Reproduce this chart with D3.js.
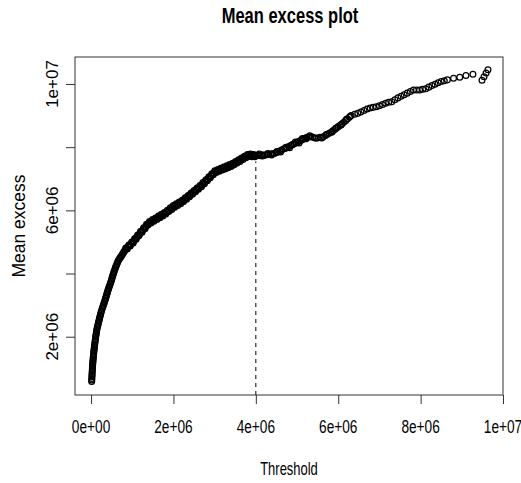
<!DOCTYPE html>
<html>
<head>
<meta charset="utf-8">
<script src="https://cdn.jsdelivr.net/npm/d3@7"></script>
<style>
body { margin: 0; background: #fff; }
text { font-family: "Liberation Sans", Arial, sans-serif; fill: #000; }
</style>
</head>
<body>
<script>
var w = 521;
var h = 483;

//Data (values in millions)
//Points of the mean excess plot: [threshold, mean excess]
var mePoints = [
	[0.015,0.58],[0.017,0.63],[0.019,0.68],[0.021,0.73],[0.023,0.78],[0.025,0.83],[0.027,0.88],[0.030,0.93],
	[0.032,0.98],[0.034,1.03],[0.037,1.08],[0.040,1.13],[0.043,1.18],[0.046,1.23],[0.049,1.28],[0.052,1.33],
	[0.056,1.38],[0.060,1.43],[0.064,1.48],[0.068,1.53],[0.072,1.58],[0.076,1.63],[0.081,1.68],[0.086,1.73],
	[0.091,1.78],[0.096,1.83],[0.101,1.88],[0.106,1.93],[0.111,1.98],[0.117,2.03],[0.123,2.08],[0.129,2.13],
	[0.135,2.18],[0.141,2.23],[0.150,2.28],[0.159,2.33],[0.168,2.38],[0.177,2.43],[0.186,2.48],[0.196,2.53],
	[0.205,2.58],[0.215,2.63],[0.225,2.68],[0.235,2.73],[0.245,2.78],[0.256,2.83],
	[0.271,2.89],[0.283,2.935],[0.294,2.98],[0.306,3.025],[0.317,3.07],[0.328,3.115],[0.340,3.16],
	[0.350,3.205],[0.361,3.25],[0.371,3.295],[0.381,3.34],[0.392,3.385],[0.402,3.43],[0.412,3.475],
	[0.424,3.52],[0.436,3.565],[0.449,3.61],[0.461,3.655],[0.473,3.70],
	[0.484,3.745],[0.494,3.79],[0.504,3.835],[0.515,3.88],[0.525,3.925],[0.536,3.97],[0.546,4.015],
	[0.558,4.06],[0.571,4.105],[0.583,4.15],[0.595,4.195],[0.607,4.237],
	[0.621,4.28],[0.635,4.325],[0.649,4.37],[0.663,4.415],
	[0.685,4.46],[0.703,4.495],[0.722,4.53],[0.741,4.565],
	[0.758,4.60],[0.774,4.635],[0.790,4.67],[0.807,4.705],[0.823,4.74],
	[0.861,4.79],[0.897,4.84],[0.933,4.885],[0.969,4.93],
	[1.005,4.98],[1.041,5.04],[1.077,5.10],[1.113,5.15],[1.149,5.21],[1.185,5.27],
	[1.221,5.32],[1.257,5.38],[1.293,5.435],[1.329,5.49],[1.365,5.55],
	[1.401,5.60],[1.437,5.625],[1.473,5.655],[1.509,5.68],[1.545,5.71],[1.581,5.735],
	[1.617,5.765],[1.653,5.79],[1.689,5.82],[1.725,5.85],[1.761,5.875],[1.797,5.905],
	[1.833,5.945],[1.869,5.98],[1.905,6.02],[1.941,6.055],[1.977,6.09],
	[2.013,6.125],[2.049,6.155],[2.085,6.18],[2.121,6.21],[2.157,6.24],[2.193,6.265],
	[2.229,6.30],[2.265,6.34],[2.301,6.375],[2.337,6.415],[2.373,6.45],
	[2.409,6.49],[2.445,6.53],[2.481,6.57],[2.517,6.605],[2.553,6.645],[2.589,6.685],[2.625,6.725],
	[2.661,6.765],[2.697,6.815],[2.733,6.86],[2.769,6.91],[2.805,6.955],[2.841,7.00],[2.877,7.05],
	[2.913,7.095],[2.949,7.145],[2.985,7.19],
	[3.021,7.23],[3.057,7.245],[3.093,7.265],[3.129,7.285],[3.165,7.305],[3.201,7.325],
	[3.237,7.34],[3.273,7.36],[3.309,7.38],[3.345,7.40],[3.381,7.415],
	[3.417,7.435],[3.453,7.465],[3.489,7.49],[3.525,7.52],[3.561,7.55],[3.597,7.575],
	[3.633,7.605],[3.669,7.635],[3.705,7.66],[3.741,7.69],[3.777,7.72],[3.813,7.745],
	[3.849,7.76],[3.885,7.735],[3.921,7.73],[3.957,7.735],[3.993,7.74],
	[4.06,7.745],[4.10,7.73],[4.14,7.76],[4.18,7.74],[4.22,7.75],
	[4.265,7.76],[4.31,7.77],[4.355,7.78],[4.40,7.79],[4.445,7.80],
	[4.49,7.82],[4.535,7.85],[4.58,7.88],[4.625,7.91],[4.67,7.94],[4.71,7.96],
	[4.755,7.99],[4.80,8.02],[4.845,8.05],[4.89,8.08],[4.935,8.11],
	[4.98,8.14],[5.025,8.17],[5.07,8.20],[5.115,8.23],[5.16,8.26],[5.194,8.28],
	[5.24,8.31],[5.285,8.32],[5.33,8.33],[5.375,8.32],[5.42,8.30],[5.465,8.28],
	[5.52,8.30],[5.565,8.31],[5.638,8.33],[5.69,8.37],[5.735,8.41],[5.78,8.44],[5.825,8.47],
	[5.87,8.52],[5.915,8.56],[5.96,8.61],[6.00,8.65],[6.045,8.69],[6.09,8.74],[6.135,8.79],
	[6.18,8.84],[6.225,8.90],[6.27,8.95],[6.315,9.00],
	[6.40,9.04],[6.475,9.07],[6.55,9.11],[6.625,9.16],[6.70,9.21],[6.775,9.24],[6.85,9.26],
	[6.925,9.28],[7.00,9.31],[7.075,9.35],[7.15,9.39],[7.225,9.42],[7.30,9.44],[7.375,9.50],
	[7.45,9.56],[7.525,9.61],[7.60,9.66],[7.675,9.71],[7.75,9.76],[7.825,9.81],[7.90,9.81],
	[7.975,9.81],[8.05,9.83],[8.125,9.85],[8.20,9.90],[8.275,9.95],[8.35,9.99],[8.425,10.04],
	[8.50,10.08],[8.575,10.10],[8.65,10.13],[8.80,10.18],[8.95,10.21],[9.10,10.27],[9.27,10.31],
	[9.49,10.12],[9.54,10.23],[9.59,10.35],[9.635,10.45]
];

//More points where the reference is a solid band (0.8e6 - 6.3e6)
var mePointsDense = [
	[0.842,4.805],[0.879,4.775],[0.915,4.90],[0.951,4.87],[0.987,4.995],[1.023,4.97],[1.059,5.11],[1.095,5.085],
	[1.131,5.22],[1.167,5.20],[1.203,5.335],[1.239,5.31],[1.275,5.45],[1.311,5.42],[1.347,5.56],[1.383,5.535],
	[1.419,5.65],[1.455,5.60],[1.491,5.71],[1.527,5.655],[1.563,5.76],[1.599,5.71],[1.635,5.82],[1.671,5.765],
	[1.707,5.875],[1.743,5.82],[1.779,5.93],[1.815,5.885],[1.851,6.00],[1.887,5.96],[1.923,6.08],[1.959,6.03],
	[1.995,6.15],[2.031,6.10],[2.067,6.21],[2.103,6.155],[2.139,6.265],[2.175,6.21],[2.211,6.32],[2.247,6.28],
	[2.283,6.40],[2.319,6.355],[2.355,6.47],[2.391,6.43],[2.427,6.55],[2.463,6.51],[2.499,6.63],[2.535,6.585],
	[2.571,6.705],[2.607,6.665],[2.643,6.785],[2.679,6.75],[2.715,6.88],[2.751,6.845],[2.787,6.97],[2.823,6.94],
	[2.859,7.065],[2.895,7.03],[2.931,7.16],[2.967,7.13],[3.003,7.25],[3.039,7.20],[3.075,7.295],[3.111,7.235],
	[3.147,7.335],[3.183,7.275],[3.219,7.37],[3.255,7.31],[3.291,7.41],[3.327,7.35],[3.363,7.45],[3.399,7.385],
	[3.435,7.49],[3.471,7.44],[3.507,7.545],[3.543,7.495],[3.579,7.60],[3.615,7.55],[3.651,7.66],[3.687,7.61],
	[3.723,7.715],[3.759,7.665],[3.795,7.77],[3.831,7.715],[3.867,7.785],[3.903,7.695],[3.939,7.77],[3.975,7.70],
	[4.08,7.78],[4.16,7.72],[4.29,7.80],[4.38,7.75],[4.51,7.86],[4.60,7.85],[4.73,8.00],[4.82,7.98],
	[4.96,8.16],[5.05,8.13],[5.13,8.27],[5.22,8.27],[5.31,8.36],[5.60,8.29],[5.71,8.40],[5.85,8.48],
	[5.94,8.60],[6.07,8.70],[6.20,8.88],[6.29,8.98]
];

//Chosen threshold (dashed line) and mean excess where it stops
var uLine = 4.0;
var uLineTop = 7.55;

//Axes
var xTicks = [0, 2, 4, 6, 8, 10];
var xTickLabels = ["0e+00", "2e+06", "4e+06", "6e+06", "8e+06", "1e+07"];
var yTicks = [2, 4, 6, 8, 10];
var yTickLabels = ["2e+06", "", "6e+06", "", "1e+07"];

var titleText = "Mean excess plot";
var xLabel = "Threshold";
var yLabel = "Mean excess";

//Plot region
var pLeft = 75, pRight = 503, pTop = 57, pBottom = 395;

var x = d3.scaleLinear().domain([-0.39, 10.0]).range([pLeft, pRight]);
var y = d3.scaleLinear().domain([0.155, 10.854]).range([pBottom, pTop]);

var svg = d3.select("body")
	.append("svg")
	.attr("width", w)
	.attr("height", h);

//Points
svg.append("g")
	.selectAll("circle")
	.data(mePoints.concat(mePointsDense))
	.enter()
	.append("circle")
	.attr("cx", function(d) { return x(d[0]); })
	.attr("cy", function(d) { return y(d[1]); })
	.attr("r", 2.9)
	.attr("fill", "none")
	.attr("stroke", "#000")
	.attr("stroke-width", 1.25);

//Dashed threshold line
svg.append("line")
	.attr("x1", x(uLine))
	.attr("x2", x(uLine))
	.attr("y1", pBottom)
	.attr("y2", y(uLineTop))
	.attr("stroke", "#000")
	.attr("stroke-width", 1)
	.attr("stroke-dasharray", "4,4");

//Box
svg.append("rect")
	.attr("x", pLeft)
	.attr("y", pTop)
	.attr("width", pRight - pLeft)
	.attr("height", pBottom - pTop)
	.attr("fill", "none")
	.attr("stroke", "#333")
	.attr("stroke-width", 1);

//x axis
var xAxis = svg.append("g")
	.attr("transform", "translate(0," + pBottom + ")")
	.call(d3.axisBottom(x).tickValues(xTicks).tickSize(9).tickFormat(""));
xAxis.select(".domain").remove();
xAxis.selectAll("line").attr("stroke", "#333");

svg.append("g")
	.selectAll("text")
	.data(xTicks)
	.enter()
	.append("text")
	.attr("text-anchor", "middle")
	.attr("font-size", 19)
	.attr("transform", function(d) {
		return "translate(" + x(d) + ",433) scale(0.72,1)";
	})
	.text(function(d, i) { return xTickLabels[i]; });

//y axis
var yAxis = svg.append("g")
	.attr("transform", "translate(" + pLeft + ",0)")
	.call(d3.axisLeft(y).tickValues(yTicks).tickSize(9).tickFormat(""));
yAxis.select(".domain").remove();
yAxis.selectAll("line").attr("stroke", "#333");

svg.append("g")
	.selectAll("text")
	.data(yTicks)
	.enter()
	.append("text")
	.attr("text-anchor", "middle")
	.attr("font-size", 17)
	.attr("transform", function(d) {
		return "translate(58," + y(d) + ") rotate(-90)";
	})
	.text(function(d, i) { return yTickLabels[i]; });

//Title and axis labels
svg.append("text")
	.attr("text-anchor", "middle")
	.attr("font-size", 22)
	.attr("font-weight", "bold")
	.attr("transform", "translate(290,23) scale(0.75,1)")
	.text(titleText);

svg.append("text")
	.attr("text-anchor", "middle")
	.attr("font-size", 18)
	.attr("transform", "translate(289,475) scale(0.72,1)")
	.text(xLabel);

svg.append("text")
	.attr("text-anchor", "middle")
	.attr("font-size", 17.5)
	.attr("transform", "translate(25," + ((pTop + pBottom) / 2) + ") rotate(-90)")
	.text(yLabel);
</script>
</body>
</html>
